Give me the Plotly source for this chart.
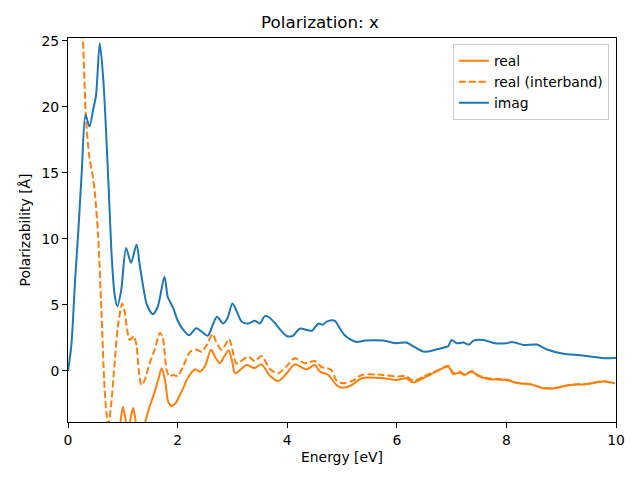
import plotly.graph_objects as go

# imag
imag_x = [0, 0.06, 0.13, 0.19, 0.25, 0.32, 0.39, 0.46, 0.51, 0.58, 0.645, 0.735, 0.8, 0.85, 0.9, 0.97,
          1.06, 1.15, 1.25, 1.31, 1.38, 1.44, 1.55, 1.64, 1.76, 1.82, 1.86, 1.92, 2.01, 2.13, 2.21, 2.34,
          2.44, 2.55, 2.64, 2.72, 2.83, 2.91, 3.0, 3.08, 3.17, 3.29, 3.41, 3.5, 3.59, 3.66, 3.78, 3.9,
          3.99, 4.1, 4.23, 4.45, 4.57, 4.65, 4.73, 4.87, 4.95, 5.05, 5.15, 5.27, 5.42, 5.75, 5.99, 6.17,
          6.33, 6.51, 6.7, 6.88, 6.94, 7.0, 7.09, 7.21, 7.32, 7.4, 7.58, 7.79, 8.0, 8.1, 8.31, 8.55, 8.73,
          9.04, 9.34, 9.53, 9.83, 10.0]
imag_y = [0.0, 1.9, 6.9, 10.7, 15.0, 19.4, 18.5, 19.8, 20.8, 24.8, 22.0, 14.5, 8.5, 5.8, 4.9, 6.1,
          9.3, 8.2, 9.55, 8.0, 6.2, 5.0, 4.3, 4.9, 7.14, 5.6, 5.25, 4.75, 3.73, 2.98, 2.7, 3.23,
          2.98, 2.67, 3.48, 4.1, 3.6, 3.99, 5.1, 4.5, 3.73, 3.6, 3.8, 3.6, 4.15, 4.1, 3.6, 3.0,
          2.65, 2.65, 3.2, 3.05, 3.6, 3.5, 3.75, 3.8, 3.3, 2.7, 2.4, 2.2, 2.3, 2.3, 2.1, 2.15,
          1.8, 1.45, 1.6, 1.8, 1.9, 2.35, 2.1, 2.15, 2.0, 2.3, 2.35, 2.1, 2.1, 2.2, 1.97, 2.0, 1.65,
          1.3, 1.2, 1.1, 0.96, 1.0]

# real
real_x = [0.1, 0.3, 0.5, 0.7, 0.85, 0.93, 0.96, 1.0, 1.04, 1.08, 1.12, 1.15, 1.19, 1.22, 1.26, 1.33,
          1.41, 1.47, 1.58, 1.65, 1.71, 1.77, 1.83, 1.89, 1.96, 2.07, 2.2, 2.32, 2.4, 2.5, 2.61, 2.68,
          2.77, 2.85, 2.93, 2.99, 3.05, 3.14, 3.26, 3.4, 3.53, 3.69, 3.84, 3.99, 4.14, 4.35, 4.5, 4.6,
          4.75, 4.9, 4.99, 5.18, 5.36, 5.75, 6.0, 6.17, 6.3, 6.48, 6.72, 6.94, 7.03, 7.15, 7.24, 7.36,
          7.49, 7.67, 8.0, 8.21, 8.43, 8.67, 8.89, 9.16, 9.46, 9.77, 9.98]
real_y = [-40, -20, -12, -8, -5.5, -4.5, -3.8, -2.7, -3.4, -4.2, -4.0, -3.4, -2.8, -3.4, -4.3, -4.6,
          -3.84, -2.95, -1.6, -0.6, 0.2, -0.7, -2.33, -2.65, -2.45, -1.57, -0.43, 0.13, -0.05, 0.38, 1.6, 1.1,
          0.58, 1.1, 1.55, 0.83, -0.17, 0.08, 0.45, 0.22, 0.5, -0.38, -0.76, -0.17, 0.5, 0.12, 0.45, -0.05,
          -0.3, -1.06, -1.26, -1.06, -0.55, -0.55, -0.68, -0.55, -0.88, -0.55, -0.05, 0.33, -0.23, -0.13, -0.3, -0.05,
          -0.38, -0.6, -0.68, -0.93, -1.0, -1.3, -1.3, -1.06, -1.0, -0.8, -0.93]

# real (interband)
inter_x = [0.0, 0.1, 0.2, 0.27, 0.33, 0.39, 0.45, 0.49, 0.55, 0.61, 0.66, 0.7, 0.74, 0.79, 0.85, 0.91,
           0.99, 1.03, 1.08, 1.125, 1.17, 1.2, 1.25, 1.29, 1.34, 1.4, 1.49, 1.58, 1.68, 1.73, 1.8, 1.85,
           1.92, 2.0, 2.1, 2.23, 2.35, 2.44, 2.53, 2.64, 2.7, 2.8, 2.86, 2.94, 3.0, 3.07, 3.14, 3.29,
           3.41, 3.53, 3.69, 3.84, 3.99, 4.14, 4.32, 4.5, 4.63, 4.8, 4.9, 5.02, 5.2, 5.36, 5.75, 6.0,
           6.17, 6.3, 6.48, 6.72, 6.94, 7.03, 7.15, 7.24, 7.36, 7.49, 7.67, 8.0, 8.21, 8.43, 8.67, 8.89,
           9.16, 9.46, 9.77, 9.98]
inter_y = [40, 36, 30, 25.3, 19.0, 16.2, 14.8, 13.5, 10.2, 4.5, -0.68, -3.1, -4.0, -2.45, 0.58, 3.35,
           5.1, 4.6, 3.1, 2.35, 2.5, 2.65, 1.9, 0.08, -1.06, -0.68, 0.58, 1.6, 2.9, 2.5, 0.08, -0.4,
           -0.3, -0.38, 0.33, 1.46, 1.6, 1.46, 1.97, 2.8, 2.25, 1.6, 1.9, 2.42, 1.6, 0.58, 0.7, 1.08,
           0.75, 1.14, 0.13, -0.17, 0.38, 0.96, 0.58, 0.76, 0.3, 0.1, -0.73, -0.93, -0.73, -0.3, -0.3, -0.43,
           -0.38, -0.76, -0.43, 0.0, 0.4, -0.15, -0.05, -0.25, 0.0, -0.33, -0.55, -0.65, -0.9, -0.98, -1.28, -1.28,
           -1.05, -0.98, -0.78, -0.92]

x_ticks = [0, 2, 4, 6, 8, 10]
y_ticks = [0, 5, 10, 15, 20, 25]

ORANGE = "#ff7f0e"
BLUE = "#1f77b4"
FONT = "DejaVu Sans"
FS = 13.9

fig = go.Figure()
fig.add_trace(go.Scatter(x=real_x, y=real_y, mode="lines", name="real",
                         line=dict(color=ORANGE, width=2, shape="spline", smoothing=0.8)))
fig.add_trace(go.Scatter(x=inter_x, y=inter_y, mode="lines", name="real (interband)",
                         line=dict(color=ORANGE, width=2, dash="7px,3px", shape="spline", smoothing=0.8)))
fig.add_trace(go.Scatter(x=imag_x, y=imag_y, mode="lines", name="imag",
                         line=dict(color=BLUE, width=2, shape="spline", smoothing=0.8)))

axis_common = dict(showline=True, linecolor="black", linewidth=1, mirror=True,
                   ticks="outside", ticklen=5, tickwidth=1, tickcolor="black",
                   showgrid=False, zeroline=False, automargin=False,
                   tickfont=dict(family=FONT, size=FS, color="black"))

fig.update_layout(
    width=640, height=480,
    margin=dict(l=68, r=24, t=38, b=58, autoexpand=False),
    paper_bgcolor="white", plot_bgcolor="white",
    title=dict(text="Polarization: x", x=0.5, xanchor="center", y=0.953, yanchor="middle",
               font=dict(family=FONT, size=16.7, color="black")),
    xaxis=dict(range=[0, 10], tickvals=x_ticks, ticktext=[str(t) for t in x_ticks],
               title=dict(text="Energy [eV]", font=dict(family=FONT, size=FS, color="black"), standoff=5),
               **axis_common),
    yaxis=dict(range=[-3.86, 25.2], tickvals=y_ticks, ticktext=[str(t) for t in y_ticks],
               title=dict(text="Polarizability [Å]", font=dict(family=FONT, size=FS, color="black"), standoff=7),
               **axis_common),
    legend=dict(x=0.987, y=0.984, xanchor="right", yanchor="top",
                bgcolor="rgba(255,255,255,0.8)", bordercolor="#cccccc", borderwidth=1,
                font=dict(family=FONT, size=FS, color="black"), itemwidth=30,
                tracegroupgap=0),
    showlegend=True,
)

fig.write_html("out.html", config={"displayModeBar": False},
               post_script="document.body.style.margin='0';")
